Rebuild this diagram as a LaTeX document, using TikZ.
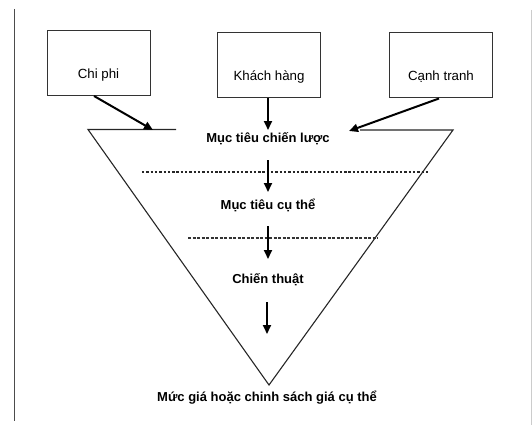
\documentclass[tikz,border=0pt]{standalone}
\usepackage{fontspec}
\setmainfont{Liberation Sans}
\usetikzlibrary{arrows.meta}
\begin{document}
\begin{tikzpicture}[x=1pt,y=1pt,
  box/.style={draw=black!80,line width=1pt,minimum width=103pt,minimum height=65pt,inner sep=0pt},
  boxtext/.style={font=\fontsize{13.3}{15}\selectfont,inner sep=0pt},
  level/.style={font=\fontsize{13}{15}\selectfont\bfseries,inner sep=0pt},
  edge/.style={draw=black!85,line width=1.1pt},
  flow/.style={draw=black,line width=2pt,-{Triangle[length=9pt,width=8pt]}},
  dotline/.style={draw=black!85,line width=1.8pt,dash pattern=on 2.4pt off 1.9pt},
  dashline/.style={draw=black!80,line width=1.2pt,dash pattern=on 3pt off 1.5pt}]
\useasboundingbox (0,0) rectangle (532,-425);
% page border (scan)
\draw[black!70,line width=1pt] (14,-9) -- (14,-421);
\draw[black!20,line width=0.6pt] (531,-10) -- (531,-425);
% boxes
\node[box] (cp) at (98.5,-63) {};
\node[box] (kh) at (269,-65) {};
\node[box] (ct) at (441,-65.5) {};
\node[boxtext] (cpt) at (98.5,-75) {Chi phi};
\node[boxtext] (kht) at (269,-77) {Khách hàng};
\node[boxtext] (ctt) at (441,-77) {Cạnh tranh};
% triangle
\coordinate (tl) at (88,-129.5);
\coordinate (tlm) at (176,-129.5);
\coordinate (trm) at (360,-130);
\coordinate (tr) at (453,-130);
\coordinate (ap) at (269,-385);
\draw[edge] (tlm) -- (tl) -- (ap) -- (tr) -- (trm);
% arrow targets
\coordinate (a1) at (153,-130);
\coordinate (a2) at (268,-130);
\coordinate (a3) at (349,-131);
\draw[flow] (cp.south -| 94,0) -- (a1);
\draw[flow] (kh.south -| 268,0) -- (a2);
\draw[flow] (ct.south -| 439,0) -- (a3);
% levels
\node[level] (l1) at (268,-139) {Mục tiêu chiến lược};
\node[level] (l2) at (268,-205) {Mục tiêu cụ thể};
\node[level] (l3) at (268,-280) {Chiến thuật};
\node[level] (l4) at (267,-398) {Mức giá hoặc chinh sách giá cụ thể};
% separators
\coordinate (d1a) at (142,-172);
\coordinate (d1b) at (428,-172);
\coordinate (d2a) at (188,-238);
\coordinate (d2b) at (378,-238);
\draw[dotline] (d1a) -- (d1b);
\draw[dashline] (d2a) -- (d2b);
% inner arrows
\coordinate (b1s) at (268,-160);
\coordinate (b1e) at (268,-192);
\coordinate (b2s) at (268,-226);
\coordinate (b2e) at (268,-259);
\coordinate (b3s) at (267,-302);
\coordinate (b3e) at (267,-334);
\draw[flow] (b1s) -- (b1e);
\draw[flow] (b2s) -- (b2e);
\draw[flow] (b3s) -- (b3e);
\end{tikzpicture}
\end{document}
